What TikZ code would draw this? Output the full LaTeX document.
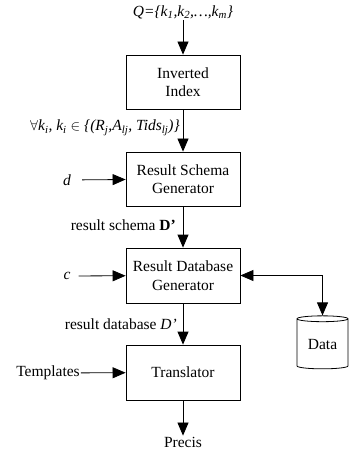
\documentclass[tikz,border=0pt]{standalone}
\usepackage{fontspec}
\setmainfont{Liberation Serif}
\usetikzlibrary{arrows.meta,shapes.geometric}
\tikzset{
  box/.style={draw, line width=0.8pt, minimum width=114pt, minimum height=54pt, align=center, inner sep=2pt},
  lbl/.style={inner sep=1pt},
  arr/.style={-{Triangle[length=13pt,width=11pt]}, line width=0.8pt},
  darr/.style={{Triangle[length=13pt,width=11pt]}-{Triangle[length=13pt,width=11pt]}, line width=0.8pt},
}
\begin{document}
\begin{tikzpicture}[x=1pt,y=-1pt,font=\fontsize{15.5}{18.5}\selectfont]
\useasboundingbox (0,0) rectangle (349,454);
\node[lbl] (q) at (183,12) {\itshape Q=\{k\textsubscript{1},k\textsubscript{2},\ldots,k\textsubscript{m}\}};
\node[box] (ii) at (183,82) {Inverted\\Index};
\node[box] (rsg) at (183,179) {Result Schema\\Generator};
\node[box, minimum height=55pt] (rdg) at (183,275.5) {Result Database\\Generator};
\node[box, minimum height=55pt] (tr) at (183,372.5) {Translator};
\node[lbl, anchor=east] (fa) at (181,128) {\itshape $\forall$k\textsubscript{i}, k\textsubscript{i} $\in$ \{(R\textsubscript{j},A\textsubscript{lj}, Tids\textsubscript{lj})\}};
\node[lbl] (d) at (67,180) {\itshape d};
\node[lbl, anchor=east] (rs) at (177,225) {result schema \textbf{D’}};
\node[lbl] (c) at (67,276) {\itshape c};
\node[lbl, anchor=east] (rd) at (178,324) {result database \textit{D’}};
\node[lbl] (tp) at (48,373) {Templates};
\node[lbl] (pr) at (183,442) {Precis};
\node[draw, line width=0.8pt, cylinder, shape border rotate=90, aspect=0.2, minimum width=51pt, minimum height=53pt, inner sep=0pt] (data) at (322.5,344) {Data};
\draw[arr] (q) -- (ii);
\draw[arr] (ii) -- (rsg);
\draw[arr] (rsg) -- (rdg);
\draw[arr] (rdg) -- (tr);
\draw[arr] (tr) -- (pr);
\draw[arr, shorten <=10pt] (d) -- (rsg);
\draw[arr, shorten <=7pt] (c) -- (rdg);
\draw[arr] (tp) -- (tr);
\draw[darr] (rdg.east) -| (data.top);
\end{tikzpicture}
\end{document}
